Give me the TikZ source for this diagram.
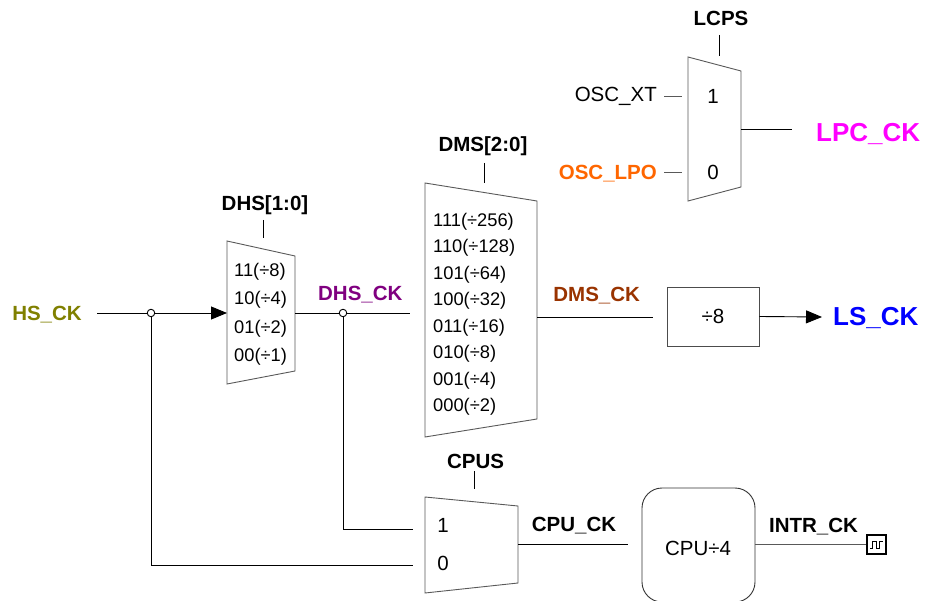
\documentclass[tikz,border=0pt]{standalone}
\usepackage{fontspec}
\setmainfont{Liberation Sans}
\usetikzlibrary{arrows.meta}
\definecolor{hsc}{RGB}{128,128,0}
\definecolor{dhsc}{RGB}{128,0,128}
\definecolor{dmsc}{RGB}{153,51,0}
\definecolor{lsc}{RGB}{0,0,255}
\definecolor{lpcc}{RGB}{255,0,255}
\definecolor{lpoc}{RGB}{255,102,0}
\tikzset{
  muxbox/.style={draw=black!65, line width=0.9pt},
  wire/.style={draw=black, line width=0.9pt},
  sel/.style={draw=black, line width=0.9pt},
  arr/.style={wire, -{Triangle[length=16pt,width=13pt]}},
  jdot/.style={circle, draw=black, fill=white, line width=0.9pt, inner sep=0pt, minimum size=7.5pt},
  item/.style={inner sep=0pt, anchor=base west, font=\fontsize{18.3}{20}\selectfont},
  plain/.style={inner sep=0pt, anchor=base, font=\fontsize{20.5}{24}\selectfont},
  sig/.style={inner sep=0pt, anchor=base, font=\bfseries\fontsize{20.5}{24}\selectfont},
  bigsig/.style={inner sep=0pt, anchor=base west, font=\bfseries\fontsize{26}{30}\selectfont},
}
\begin{document}
\begin{tikzpicture}[x=1pt,y=-1pt]
\useasboundingbox (0,0) rectangle (925,601);

% ---------- DHS divider mux ----------
\draw[muxbox] (227,241) -- (295,256) -- (295,371) -- (227,384) -- cycle;
\coordinate (dhsin) at (227,313);
\coordinate (dhsout) at (295,313);
\coordinate (dhstop) at (263,238);
\coordinate (dhssel) at (263,220);
\node[sig] (dhslab) at (265,210.3) {DHS[1:0]};
\node[item] (d11) at (234,276.5) {11(÷8)};
\node[item] (d10) at (234,304.8) {10(÷4)};
\node[item] (d01) at (234,333.2) {01(÷2)};
\node[item] (d00) at (234,361.5) {00(÷1)};
\draw[sel] (dhssel) -- (dhstop);

% ---------- DMS divider mux ----------
\draw[muxbox] (425,183) -- (537,201) -- (537,419) -- (425,437) -- cycle;
\coordinate (dmsin) at (412,313);
\coordinate (dmsout) at (537,317);
\coordinate (dmstop) at (484,183);
\coordinate (dmssel) at (484,163);
\node[sig] (dmslab) at (483,151.7) {DMS[2:0]};
\foreach \t [count=\i from 0] in {111(÷256),110(÷128),101(÷64),100(÷32),011(÷16),010(÷8),001(÷4),000(÷2)}
  \node[item] (m\i) at (433,226.5+26.43*\i) {\t};
\draw[sel] (dmssel) -- (dmstop);

% ---------- LCPS mux ----------
\draw[muxbox] (688,57) -- (741,71) -- (741,187) -- (688,201) -- cycle;
\coordinate (lcpstop) at (719,56);
\coordinate (lcpssel) at (719,35);
\coordinate (lcpsout) at (741,129);
\coordinate (lcpsi1) at (682,96);
\coordinate (lcpsi0) at (682,172);
\node[sig] (lcpslab) at (721,26) {LCPS};
\node[plain] (l1) at (713,103.3) {1};
\node[plain] (l0) at (713,179.3) {0};
\draw[sel] (lcpssel) -- (lcpstop);

% ---------- CPUS mux ----------
\draw[muxbox] (425,497) -- (518,506) -- (518,583) -- (425,593) -- cycle;
\coordinate (cpustop) at (474,489);
\coordinate (cpussel) at (474,471);
\coordinate (cpusi1) at (413,529);
\coordinate (cpusi0) at (413,565);
\coordinate (cpusout) at (518,544);
\node[sig] (cpuslab) at (475.5,468.3) {CPUS};
\node[plain] (c1) at (443,532.7) {1};
\node[plain] (c0) at (443,570) {0};
\draw[sel] (cpussel) -- (cpustop);

% ---------- divide-by-8 block ----------
\node[draw=black!70, line width=0.9pt, minimum width=92pt, minimum height=59pt, inner sep=0pt,
      font=\fontsize{20.5}{24}\selectfont] (div8) at (713,316.5) {÷8};

% ---------- CPU/4 block ----------
\node[draw=black!80, line width=0.9pt, rounded corners=20pt, minimum width=113pt, minimum height=114pt,
      inner sep=0pt] (cpudiv) at (698.5,545) {};
\node[plain] (cpudivtxt) at (698,555) {CPU÷4};

% ---------- interrupt clock terminal ----------
\node[draw=black, line width=1.3pt, minimum size=19pt, inner sep=0pt] (intr) at (876.5,544.5) {};
\draw[line width=0.8pt] ([xshift=-6.5pt,yshift=-3.5pt]intr.center) -- ++(2.5,0) -- ++(0,-7) -- ++(4,0)
  -- ++(0,7) -- ++(3,0) -- ++(0,-7) -- ++(3.5,0);

% ---------- signal names ----------
\node[sig, text=hsc] (hs) at (47,320.3) {HS\_CK};
\node[sig, text=dhsc] (dhsck) at (360.3,300.6) {DHS\_CK};
\node[sig, text=dmsc] (dmsck) at (596.7,301.7) {DMS\_CK};
\node[bigsig, text=lsc] (ls) at (833,325) {LS\_CK};
\node[bigsig, text=lpcc] (lpc) at (816,141.7) {LPC\_CK};
\node[plain, anchor=base east] (oscxt) at (657,101.7) {OSC\_XT};
\node[sig, anchor=base east, text=lpoc] (osclpo) at (657,180) {OSC\_LPO};
\node[sig, anchor=base west] (cpuck) at (531.7,531.7) {CPU\_CK};
\node[sig] (intrck) at (813.5,532) {INTR\_CK};

% ---------- wiring ----------
\coordinate (hsstart) at (97,313);
\node[jdot] (j1) at (151,313) {};
\node[jdot] (j2) at (343,313) {};
\coordinate (dhsend) at (410,313);
\coordinate (j1low) at (151,565);
\coordinate (j2low) at (343,529);
\coordinate (dmsend) at (653,317);
\coordinate (lpcend) at (792,129);
\coordinate (cpuend) at (628,544);
\coordinate (xtstart) at (664,96);
\coordinate (lpostart) at (664,172);

\draw[wire] (hsstart) -- (j1);
\draw[arr] (j1) -- (dhsin);
\draw[wire] (j1) -- (j1low) -- (cpusi0);
\draw[wire] (dhsout) -- (j2);
\draw[wire] (j2) -- (dhsend);
\draw[wire] (j2) -- (j2low) -- (cpusi1);
\draw[wire] (dmsout) -- (dmsend);
\draw[arr] (div8.east) -- (822,317);
\draw[wire] (lcpsout) -- (lpcend);
\draw[wire, draw=black!65] (xtstart) -- (lcpsi1);
\draw[wire, draw=black!65] (lpostart) -- (lcpsi0);
\draw[wire] (cpusout) -- (cpuend);
\draw[wire, draw=black!65] (cpudiv.east |- intr.west) -- (intr.west);
\end{tikzpicture}
\end{document}
